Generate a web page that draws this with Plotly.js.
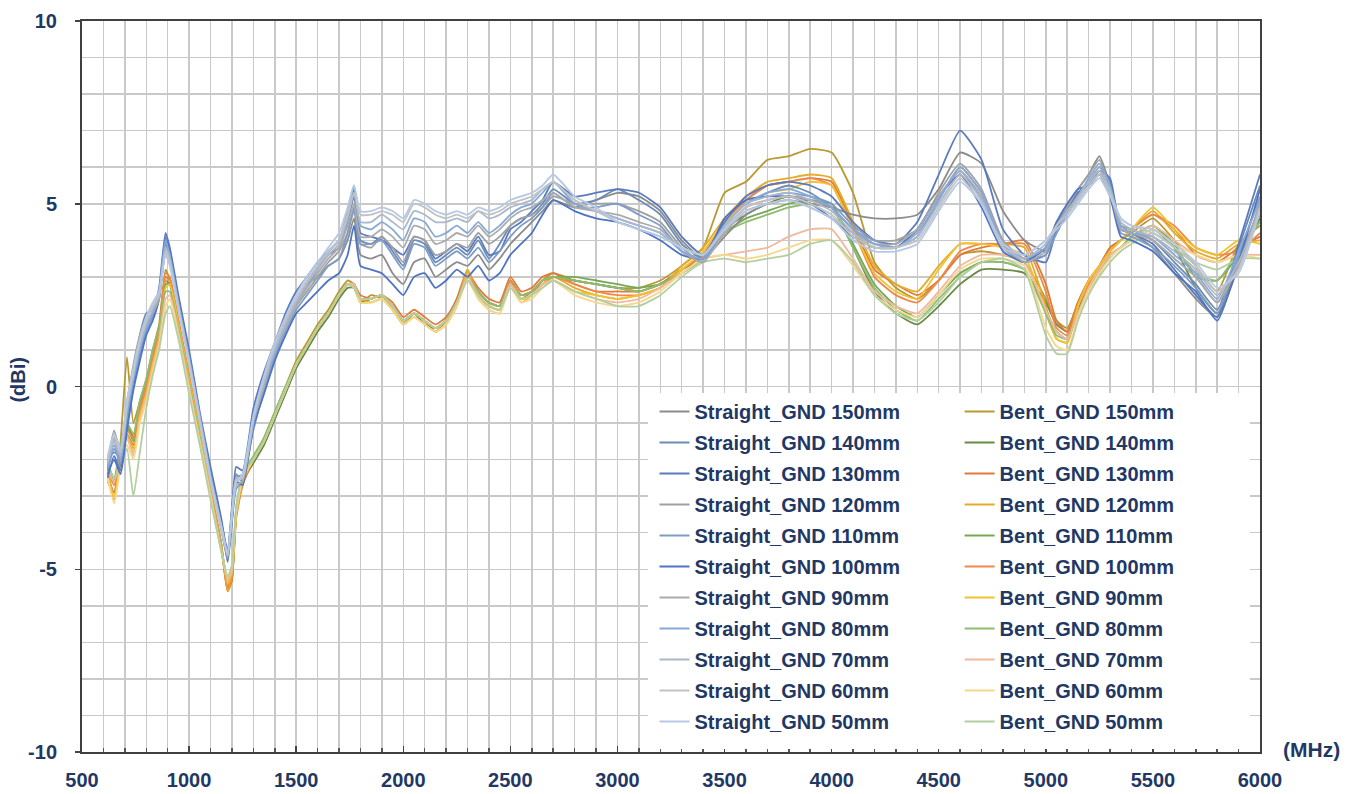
<!DOCTYPE html>
<html><head><meta charset="utf-8">
<script src="https://cdn.plot.ly/plotly-3.0.1.min.js"></script>
<style>html,body{margin:0;padding:0;background:#fff;} #chart{width:1354px;height:794px;}</style>
</head><body><div id="chart"></div>
<script>
// Frequency (MHz)
const freq = [620,650,680,710,740,770,800,830,860,890,
  910,950,1000,1050,1100,1150,1180,1200,1220,1250,
  1300,1350,1400,1450,1500,1550,1600,1650,1700,1740,
  1770,1800,1850,1900,1950,2000,2050,2100,2150,2200,
  2250,2300,2350,2400,2450,2500,2550,2600,2650,2700,
  2800,2900,3000,3100,3200,3300,3400,3500,3600,3700,
  3800,3900,4000,4100,4200,4300,4400,4500,4600,4700,
  4800,4900,5000,5050,5100,5150,5200,5250,5300,5350,
  5400,5500,5600,5700,5800,5900,6000];

// Axis tick labels
const yTickVals = [-10, -5, 0, 5, 10];
const yTickText = ['-10', '-5', '0', '5', '10'];

// Straight_GND series (dBi)
const straight150 = [-2.3,-1.4,-2.2,-0.6,0.4,1.2,1.8,1.9,2.4,3.7,
  3.4,2.2,0.7,-0.9,-2.5,-3.9,-4.7,-3.5,-2.4,-2.6,
  -0.8,0.3,1.1,1.8,2.3,2.8,3.0,3.3,3.5,4.0,
  4.6,3.6,3.5,3.6,3.1,2.8,3.4,3.5,3.0,3.2,
  3.4,3.3,3.6,3.2,3.5,3.9,4.2,4.5,4.8,5.1,
  4.9,5.1,5.3,5.2,4.8,4.0,3.5,4.1,4.7,5.0,
  5.1,5.0,4.9,4.7,4.6,4.6,4.7,5.4,6.4,6.1,
  4.8,4.0,3.7,4.2,4.8,5.4,5.8,6.3,5.5,4.3,
  4.2,3.8,3.1,2.4,1.9,3.3,5.0];
const straight140 = [-2.0,-1.8,-1.9,-0.9,0.3,1.4,2.0,2.1,2.6,4.1,
  3.7,2.4,0.9,-0.8,-2.3,-3.7,-4.5,-3.3,-2.5,-2.4,
  -1.1,0.0,0.9,1.7,2.3,2.7,3.2,3.6,3.8,4.5,
  5.2,4.0,3.9,4.1,3.7,3.3,4.0,3.9,3.4,3.6,
  3.8,3.6,4.0,3.5,3.9,4.4,4.6,4.7,5.0,5.4,
  5.0,5.1,5.4,5.1,4.7,3.9,3.5,4.4,5.0,5.3,
  5.5,5.3,4.9,4.3,3.9,3.8,4.1,5.1,6.0,5.3,
  3.9,3.5,3.6,4.4,4.9,5.3,5.6,6.0,5.6,4.4,
  4.3,4.0,3.4,2.8,2.1,3.8,5.5];
const straight130 = [-2.5,-1.9,-2.3,-1.0,0.1,0.9,1.6,2.0,2.7,4.2,
  3.8,2.5,1.0,-0.7,-2.2,-3.6,-4.6,-3.4,-2.2,-2.3,
  -0.6,0.4,1.2,2.0,2.6,3.0,3.4,3.7,4.0,4.6,
  5.4,4.2,4.1,4.0,3.8,3.6,4.1,4.0,3.5,3.7,
  3.9,3.7,4.1,3.6,3.7,4.3,4.5,4.8,5.1,5.6,
  5.2,5.3,5.4,5.3,4.9,4.1,3.6,4.5,5.2,5.5,
  5.6,5.5,5.2,4.5,4.0,3.9,4.5,5.8,7.0,6.2,
  4.3,3.6,3.4,4.3,4.8,5.3,5.5,5.9,5.7,4.3,
  4.2,3.9,3.2,2.5,1.9,3.9,5.8];
const straight120 = [-2.1,-1.2,-1.8,-0.5,0.6,1.4,1.9,2.2,2.5,3.9,
  3.5,2.3,0.8,-0.8,-2.4,-3.8,-4.6,-3.6,-2.6,-2.5,
  -1.0,0.1,1.0,1.7,2.2,2.6,3.0,3.4,3.7,4.2,
  4.8,3.9,3.8,4.1,3.8,3.4,4.1,4.0,3.6,3.7,
  3.9,3.8,4.2,3.9,4.1,4.4,4.6,4.7,4.9,5.2,
  5.0,5.0,5.0,4.8,4.5,3.8,3.4,4.3,4.9,5.1,
  5.2,5.1,4.9,4.3,4.0,4.0,4.3,5.3,6.1,5.4,
  4.0,3.5,3.8,4.5,4.9,5.4,5.8,6.2,5.4,4.4,
  4.3,4.0,3.5,3.0,2.3,3.5,4.9];
const straight110 = [-2.3,-1.7,-2.1,-0.9,0.0,0.8,1.5,1.9,2.5,3.9,
  3.5,2.3,0.8,-0.9,-2.4,-3.8,-4.7,-3.7,-2.8,-2.6,
  -1.2,-0.1,0.8,1.5,2.1,2.5,2.9,3.3,3.5,4.2,
  4.9,3.9,3.9,4.0,3.6,3.2,3.9,3.8,3.3,3.5,
  3.7,3.5,3.8,3.4,3.7,4.1,4.4,4.6,4.9,5.3,
  4.9,4.9,5.0,4.7,4.4,3.7,3.4,4.4,5.0,5.2,
  5.3,5.2,5.0,4.4,4.0,3.8,4.3,5.2,5.9,5.1,
  3.8,3.4,3.6,4.2,4.7,5.1,5.5,5.9,5.3,4.2,
  4.1,3.8,3.3,2.7,2.0,3.6,5.2];
const straight100 = [-2.4,-2.0,-2.4,-1.2,-0.1,0.7,1.4,1.8,2.4,4.0,
  3.7,2.4,0.9,-0.8,-2.3,-3.7,-4.8,-3.7,-2.6,-2.7,
  -1.1,-0.2,0.7,1.4,2.0,2.3,2.6,2.9,3.1,3.6,
  4.4,3.3,3.2,3.1,2.8,2.5,3.0,3.1,2.7,2.9,
  3.2,3.0,3.3,2.9,3.1,3.6,3.9,4.2,4.7,5.1,
  4.8,4.6,4.5,4.3,4.0,3.6,3.5,4.6,5.1,5.2,
  5.2,5.0,4.6,4.1,3.8,3.8,4.3,5.2,5.8,4.9,
  3.7,3.4,3.8,4.5,5.0,5.4,5.5,5.8,5.2,4.1,
  4.0,3.7,3.1,2.6,1.8,3.4,5.4];
const straight90 = [-2.0,-1.3,-1.7,-0.4,0.5,1.3,1.8,2.0,2.4,3.8,
  3.4,2.2,0.7,-0.9,-2.5,-3.9,-4.7,-3.6,-2.7,-2.6,
  -1.0,0.0,0.9,1.6,2.2,2.7,3.1,3.5,3.8,4.4,
  5.0,4.1,4.1,4.3,4.1,3.8,4.4,4.3,3.9,4.0,
  4.2,4.1,4.4,4.1,4.3,4.6,4.8,4.9,5.1,5.3,
  4.9,4.8,4.7,4.5,4.3,3.7,3.4,4.2,4.8,5.0,
  5.1,4.9,4.6,4.2,3.9,3.9,4.3,5.2,5.9,5.2,
  3.9,3.4,3.7,4.4,4.8,5.2,5.6,6.0,5.3,4.3,
  4.2,4.0,3.5,3.0,2.3,3.3,5.0];
const straight80 = [-2.2,-1.6,-2.0,-0.7,0.2,1.0,1.6,2.0,2.6,4.0,
  3.6,2.3,0.8,-0.8,-2.4,-3.8,-4.6,-3.5,-2.5,-2.5,
  -1.0,0.1,0.9,1.7,2.3,2.8,3.3,3.7,4.0,4.8,
  5.5,4.4,4.3,4.5,4.3,4.0,4.6,4.5,4.1,4.2,
  4.4,4.2,4.5,4.2,4.4,4.7,4.9,5.0,5.3,5.6,
  5.0,4.8,4.6,4.4,4.2,3.7,3.5,4.4,5.0,5.3,
  5.4,5.2,4.9,4.3,3.9,3.8,4.2,5.1,6.0,5.3,
  3.9,3.5,3.8,4.4,4.8,5.2,5.7,6.1,5.5,4.4,
  4.2,4.1,3.6,3.1,2.4,3.7,5.1];
const straight70 = [-2.1,-1.5,-1.9,-0.6,0.3,1.1,1.7,2.1,2.5,3.8,
  3.5,2.2,0.7,-0.9,-2.5,-3.8,-4.6,-3.5,-2.5,-2.5,
  -0.9,0.1,1.0,1.7,2.3,2.8,3.2,3.6,3.9,4.6,
  5.3,4.5,4.5,4.7,4.5,4.3,4.8,4.7,4.5,4.5,
  4.6,4.5,4.8,4.6,4.7,4.9,5.0,5.1,5.4,5.6,
  5.1,4.8,4.6,4.4,4.2,3.8,3.6,4.4,5.0,5.2,
  5.3,5.1,4.8,4.2,3.8,3.8,4.1,5.0,5.8,5.1,
  3.8,3.5,3.9,4.4,4.8,5.2,5.6,5.9,5.4,4.5,
  4.3,4.1,3.7,3.2,2.5,3.4,4.8];
const straight60 = [-2.0,-1.4,-1.8,-0.5,0.4,1.2,1.8,2.2,2.5,3.7,
  3.4,2.2,0.7,-0.9,-2.5,-3.8,-4.6,-3.5,-2.6,-2.5,
  -0.9,0.2,1.1,1.8,2.4,2.9,3.3,3.7,4.0,4.7,
  5.3,4.7,4.7,4.8,4.7,4.5,5.0,4.9,4.7,4.6,
  4.7,4.6,4.8,4.7,4.8,5.0,5.1,5.2,5.4,5.6,
  5.1,4.8,4.5,4.3,4.1,3.8,3.6,4.3,4.9,5.1,
  5.2,5.0,4.7,4.1,3.8,3.8,4.0,4.9,5.7,5.0,
  3.8,3.6,4.0,4.4,4.7,5.1,5.5,5.8,5.3,4.6,
  4.4,4.2,3.8,3.3,2.6,3.2,4.9];
const straight50 = [-1.9,-1.3,-1.7,-0.4,0.5,1.3,1.9,2.3,2.6,3.6,
  3.3,2.1,0.6,-1.0,-2.6,-3.9,-4.6,-3.5,-2.6,-2.4,
  -0.8,0.3,1.2,1.9,2.5,3.0,3.4,3.8,4.2,4.9,
  5.5,4.8,4.8,4.9,4.8,4.6,5.1,5.0,4.8,4.7,
  4.8,4.7,4.9,4.8,4.9,5.1,5.2,5.3,5.5,5.8,
  5.2,4.9,4.5,4.3,4.1,3.8,3.6,4.3,4.8,5.0,
  5.1,4.9,4.6,4.0,3.7,3.7,3.9,4.8,5.6,5.0,
  3.9,3.6,4.0,4.3,4.6,5.0,5.4,5.7,5.2,4.6,
  4.4,4.3,3.9,3.4,2.7,3.1,4.8];

// Bent_GND series (dBi)
const bent150 = [-2.6,-2.9,-1.5,0.8,-1.0,-0.4,0.2,1.0,1.7,3.2,
  2.9,1.7,0.2,-1.3,-2.9,-4.4,-5.6,-5.3,-3.4,-2.5,
  -2.0,-1.4,-0.7,0.0,0.7,1.2,1.7,2.1,2.6,2.9,
  2.8,2.3,2.5,2.4,2.1,1.7,2.0,1.8,1.5,1.8,
  2.4,3.2,2.5,2.2,2.1,2.9,2.4,2.6,2.9,3.1,
  2.9,2.8,2.7,2.7,2.9,3.3,3.8,5.3,5.6,6.2,
  6.3,6.5,6.4,5.3,3.4,2.7,2.4,2.9,3.6,3.7,
  3.6,3.4,2.4,1.8,1.6,2.3,2.9,3.3,3.8,4.0,
  4.2,4.6,4.0,3.3,2.6,3.9,4.4];
const bent140 = [-2.3,-2.6,-1.7,-1.0,-1.4,-0.5,0.1,0.9,1.5,2.9,
  2.8,1.7,0.2,-1.3,-2.9,-4.4,-5.5,-5.2,-3.5,-2.6,
  -2.1,-1.6,-0.9,-0.2,0.5,1.0,1.5,1.9,2.4,2.7,
  2.7,2.3,2.4,2.5,2.1,1.8,2.0,1.7,1.6,1.8,
  2.3,3.0,2.6,2.3,2.2,2.8,2.5,2.6,2.8,3.0,
  2.9,2.8,2.7,2.6,2.8,3.2,3.5,4.3,4.7,5.0,
  5.2,5.1,4.9,3.8,2.6,2.0,1.7,2.2,2.8,3.2,
  3.2,3.1,2.3,1.7,1.5,2.1,2.7,3.1,3.6,3.8,
  4.0,4.3,3.8,2.7,2.0,3.4,4.6];
const bent130 = [-2.4,-2.9,-1.9,-1.3,-1.6,-0.7,-0.1,0.8,1.4,3.0,
  2.9,1.8,0.3,-1.2,-2.8,-4.3,-5.6,-5.3,-3.6,-2.7,
  -2.0,-1.5,-0.8,-0.1,0.6,1.1,1.6,2.0,2.5,2.8,
  2.8,2.5,2.4,2.5,2.3,1.9,2.1,1.9,1.7,1.9,
  2.4,3.1,2.7,2.4,2.3,3.0,2.6,2.7,3.0,3.1,
  2.8,2.6,2.6,2.6,2.8,3.2,3.6,4.5,5.1,5.5,
  5.6,5.7,5.6,4.4,3.2,2.8,2.5,2.9,3.6,3.8,
  3.9,4.0,2.8,1.8,1.5,2.3,2.9,3.3,3.8,4.0,
  4.3,4.7,4.3,3.6,3.4,3.8,4.1];
const bent120 = [-2.5,-3.1,-2.0,-1.3,-1.7,-0.8,-0.2,0.7,1.3,2.9,
  2.9,1.8,0.3,-1.2,-2.8,-4.3,-5.6,-5.2,-3.5,-2.6,
  -2.0,-1.5,-0.8,-0.1,0.6,1.1,1.6,2.0,2.5,2.8,
  2.8,2.4,2.3,2.4,2.2,1.7,1.9,1.7,1.5,1.7,
  2.2,3.2,2.5,2.2,2.1,2.8,2.4,2.5,2.8,3.0,
  2.7,2.5,2.4,2.5,2.7,3.3,3.8,4.6,5.2,5.6,
  5.7,5.8,5.7,4.5,3.3,2.8,2.6,3.3,3.9,3.9,
  3.9,3.8,2.2,1.3,1.2,2.2,2.9,3.3,3.7,4.0,
  4.3,4.8,4.2,3.7,3.5,3.9,4.0];
const bent110 = [-2.2,-2.6,-1.7,-1.1,-1.5,-0.5,0.1,0.9,1.6,2.8,
  2.8,1.7,0.2,-1.3,-2.9,-4.4,-5.4,-5.1,-3.4,-2.5,
  -2.0,-1.5,-0.8,-0.1,0.6,1.1,1.6,2.0,2.5,2.8,
  2.8,2.4,2.4,2.5,2.2,1.8,2.0,1.8,1.6,1.8,
  2.3,3.0,2.6,2.3,2.2,2.9,2.5,2.6,2.9,3.0,
  3.0,2.9,2.8,2.7,2.8,3.1,3.5,4.2,4.6,4.8,
  5.0,5.1,5.0,3.9,2.8,2.2,1.9,2.5,3.1,3.4,
  3.4,3.2,2.1,1.5,1.3,2.0,2.7,3.1,3.6,3.8,
  4.1,4.4,3.9,3.0,2.9,3.6,4.7];
const bent100 = [-2.3,-2.7,-1.8,-1.2,-1.4,-0.6,0.0,0.8,1.5,3.1,
  3.0,1.8,0.3,-1.2,-2.8,-4.3,-5.5,-5.2,-3.5,-2.6,
  -2.0,-1.5,-0.8,-0.1,0.6,1.1,1.6,2.0,2.5,2.8,
  2.8,2.4,2.4,2.5,2.2,1.8,2.0,1.8,1.6,1.8,
  2.3,3.1,2.6,2.3,2.2,2.9,2.5,2.6,2.9,3.0,
  2.8,2.6,2.5,2.5,2.7,3.2,3.6,4.5,5.1,5.5,
  5.6,5.7,5.5,4.3,3.0,2.5,2.3,2.9,3.7,3.9,
  3.9,3.9,2.6,1.6,1.4,2.2,2.8,3.2,3.7,4.0,
  4.3,4.7,4.4,3.8,3.6,3.7,4.2];
const bent90 = [-2.4,-3.0,-2.1,-1.4,-1.8,-0.8,-0.2,0.6,1.3,2.7,
  2.8,1.7,0.2,-1.3,-2.9,-4.4,-5.4,-5.1,-3.5,-2.6,
  -2.0,-1.5,-0.8,-0.1,0.6,1.1,1.6,2.0,2.5,2.8,
  2.7,2.3,2.3,2.4,2.1,1.7,1.9,1.7,1.5,1.7,
  2.2,3.1,2.4,2.1,2.0,2.8,2.3,2.5,2.8,2.9,
  2.6,2.5,2.4,2.5,2.7,3.2,3.7,4.5,5.0,5.3,
  5.4,5.6,5.5,4.3,3.1,2.6,2.4,3.2,3.9,3.9,
  3.8,3.6,2.0,1.3,1.2,2.2,2.9,3.3,3.7,4.0,
  4.3,4.9,4.3,3.8,3.6,4.0,3.9];
const bent80 = [-2.1,-2.5,-1.6,-1.0,-1.3,-0.4,0.2,1.0,1.6,2.6,
  2.6,1.6,0.1,-1.4,-3.0,-4.4,-5.3,-5.0,-3.3,-2.4,
  -1.9,-1.4,-0.7,0.0,0.6,1.1,1.6,2.0,2.5,2.8,
  2.8,2.4,2.4,2.5,2.2,1.8,2.0,1.8,1.6,1.8,
  2.3,3.0,2.6,2.3,2.2,2.8,2.5,2.6,2.9,3.0,
  2.9,2.8,2.7,2.6,2.8,3.1,3.5,4.2,4.5,4.7,
  4.9,5.0,4.9,3.8,2.7,2.1,1.8,2.4,3.0,3.4,
  3.4,3.2,2.0,1.4,1.3,2.0,2.6,3.1,3.6,3.8,
  4.1,4.4,3.8,3.1,2.9,3.7,4.5];
const bent70 = [-2.3,-2.6,-1.9,-1.4,-1.9,-0.9,-0.3,0.5,1.2,2.4,
  2.5,1.5,0.0,-1.5,-3.0,-4.5,-5.3,-5.0,-3.4,-2.5,
  -2.0,-1.5,-0.8,-0.1,0.6,1.1,1.6,2.0,2.5,2.8,
  2.8,2.4,2.4,2.5,2.2,1.8,2.0,1.8,1.6,1.8,
  2.3,3.0,2.5,2.2,2.1,2.8,2.4,2.5,2.8,2.9,
  2.6,2.4,2.3,2.4,2.7,3.1,3.5,3.6,3.7,3.8,
  4.1,4.3,4.3,3.5,2.6,2.2,2.0,2.6,3.3,3.6,
  3.6,3.4,2.1,1.5,1.3,2.0,2.7,3.2,3.6,3.8,
  4.0,4.4,4.0,3.6,3.4,3.6,3.6];
const bent60 = [-2.5,-3.2,-2.2,-1.6,-2.0,-1.0,-0.4,0.4,1.1,2.2,
  2.4,1.4,-0.1,-1.5,-3.0,-4.5,-5.2,-4.9,-3.4,-2.5,
  -2.0,-1.5,-0.8,-0.1,0.6,1.1,1.6,2.0,2.5,2.8,
  2.7,2.3,2.3,2.4,2.1,1.7,1.9,1.7,1.5,1.7,
  2.2,2.9,2.4,2.1,2.0,2.7,2.3,2.4,2.7,2.9,
  2.5,2.3,2.2,2.3,2.6,3.1,3.5,3.6,3.5,3.6,
  3.8,4.0,4.0,3.3,2.5,2.1,1.9,2.5,3.2,3.5,
  3.5,3.3,1.6,1.1,1.0,1.9,2.6,3.1,3.5,3.8,
  4.0,4.3,3.9,3.6,3.4,3.6,3.5];
const bent50 = [-2.2,-2.5,-2.2,-1.7,-3.0,-1.8,-0.6,0.3,1.0,2.0,
  2.2,1.3,-0.2,-1.6,-3.1,-4.5,-5.2,-4.9,-3.3,-2.4,
  -2.0,-1.5,-0.8,-0.1,0.6,1.1,1.6,2.0,2.5,2.8,
  2.7,2.4,2.4,2.5,2.2,1.8,2.0,1.8,1.6,1.8,
  2.3,2.9,2.5,2.2,2.1,2.7,2.4,2.5,2.7,2.9,
  2.6,2.4,2.2,2.2,2.5,3.0,3.4,3.5,3.4,3.5,
  3.6,3.9,4.0,3.4,2.5,2.0,1.8,2.3,3.0,3.4,
  3.5,3.2,1.4,0.9,0.9,1.8,2.5,3.0,3.4,3.7,
  3.9,4.2,3.8,3.4,3.2,3.5,3.5];

const straightNames = ['Straight_GND 150mm','Straight_GND 140mm','Straight_GND 130mm','Straight_GND 120mm','Straight_GND 110mm','Straight_GND 100mm','Straight_GND 90mm','Straight_GND 80mm','Straight_GND 70mm','Straight_GND 60mm','Straight_GND 50mm'];
const bentNames = ['Bent_GND 150mm','Bent_GND 140mm','Bent_GND 130mm','Bent_GND 120mm','Bent_GND 110mm','Bent_GND 100mm','Bent_GND 90mm','Bent_GND 80mm','Bent_GND 70mm','Bent_GND 60mm','Bent_GND 50mm'];
const straightColors = ['#8C8C8C','#6B8CB5','#5B7BC0','#A0A0A0','#7E9CC8','#4F74C4','#ABABAB','#86A9DA','#AAB7CC','#C2C2C2','#B5C9E6'];
const bentColors = ['#B89A30','#6A8A45','#E07B39','#E5AC2A','#76A858','#EE8A4A','#F2C12E','#8FBC6E','#F0B9A0','#F6D88C','#B3CFA0'];

const straightData = [straight150,straight140,straight130,straight120,straight110,straight100,straight90,straight80,straight70,straight60,straight50];
const bentData = [bent150,bent140,bent130,bent120,bent110,bent100,bent90,bent80,bent70,bent60,bent50];

const NAVY = '#1F3864';
const FONT = '"Liberation Sans", Arial, sans-serif';
const GRID = '#C9C9C9';

const traces = [];
bentData.forEach((ys, i) => traces.push({
  x: freq, y: ys, type: 'scatter', mode: 'lines', name: bentNames[i],
  line: {color: bentColors[i], width: 1.8, shape: 'spline', smoothing: 0.5},
  legend: 'legend2', legendgroup: 'b' + i, legendrank: i + 1, hoverinfo: 'skip'
}));
straightData.forEach((ys, i) => traces.push({
  x: freq, y: ys, type: 'scatter', mode: 'lines', name: straightNames[i],
  line: {color: straightColors[i], width: 1.8, shape: 'spline', smoothing: 0.5},
  legend: 'legend', legendgroup: 's' + i, legendrank: i + 1, hoverinfo: 'skip'
}));

const tickFont = {family: FONT, size: 20, color: NAVY, weight: 'bold'};
const legFont = {family: FONT, size: 20, color: NAVY, weight: 'bold'};

const layout = {
  width: 1354, height: 794,
  margin: {l: 82, r: 94, t: 21, b: 42},
  paper_bgcolor: '#ffffff', plot_bgcolor: '#ffffff',
  showlegend: true,
  xaxis: {
    range: [500, 6000], tickmode: 'linear', tick0: 500, dtick: 500,
    showgrid: true, gridcolor: GRID, gridwidth: 1.5,
    minor: {dtick: 100, showgrid: true, gridcolor: GRID, gridwidth: 1.5, ticks: 'inside', ticklen: 4, tickcolor: '#555'},
    ticks: 'inside', ticklen: 6, tickcolor: '#444', tickwidth: 1.5,
    showline: true, linecolor: '#404040', linewidth: 2, mirror: true, zeroline: false,
    tickfont: tickFont, ticklabelstandoff: 9, fixedrange: true
  },
  yaxis: {
    range: [-10, 10], tickmode: 'array', tickvals: yTickVals, ticktext: yTickText,
    showgrid: true, gridcolor: GRID, gridwidth: 1.5,
    minor: {dtick: 1, tick0: 0, showgrid: true, gridcolor: GRID, gridwidth: 1.5},
    ticks: 'outside', ticklen: 5, tickcolor: '#444', tickwidth: 1.5,
    showline: true, linecolor: '#404040', linewidth: 2, mirror: true, zeroline: false,
    tickfont: tickFont, ticklabelstandoff: 14, fixedrange: true
  },
  legend: {
    x: 0.486, y: 0.4925, xanchor: 'left', yanchor: 'top',
    bgcolor: 'rgba(0,0,0,0)', borderwidth: 0, font: legFont,
    itemwidth: 30, traceorder: 'grouped', tracegroupgap: 2, itemclick: false, itemdoubleclick: false
  },
  legend2: {
    x: 0.745, y: 0.4925, xanchor: 'left', yanchor: 'top',
    bgcolor: 'rgba(0,0,0,0)', borderwidth: 0, font: legFont,
    itemwidth: 30, traceorder: 'grouped', tracegroupgap: 2, itemclick: false, itemdoubleclick: false
  },
  shapes: [{
    type: 'rect', xref: 'paper', yref: 'paper',
    x0: 0.4805, x1: 0.9915, y0: 0.004, y1: 0.491,
    fillcolor: '#ffffff', line: {width: 0}, layer: 'above'
  }],
  annotations: [
    {text: '(dBi)', xref: 'paper', yref: 'paper', x: -0.054, y: 0.51, xanchor: 'center', yanchor: 'middle',
     textangle: -90, showarrow: false, font: {family: FONT, size: 20, color: NAVY, weight: 'bold'}},
    {text: '(MHz)', xref: 'paper', yref: 'paper', x: 1.044, y: 0.003, xanchor: 'center', yanchor: 'middle',
     showarrow: false, font: {family: FONT, size: 21, color: NAVY, weight: 'bold'}}
  ]
};

Plotly.newPlot('chart', traces, layout, {displayModeBar: false, staticPlot: true});
</script>
</body></html>
